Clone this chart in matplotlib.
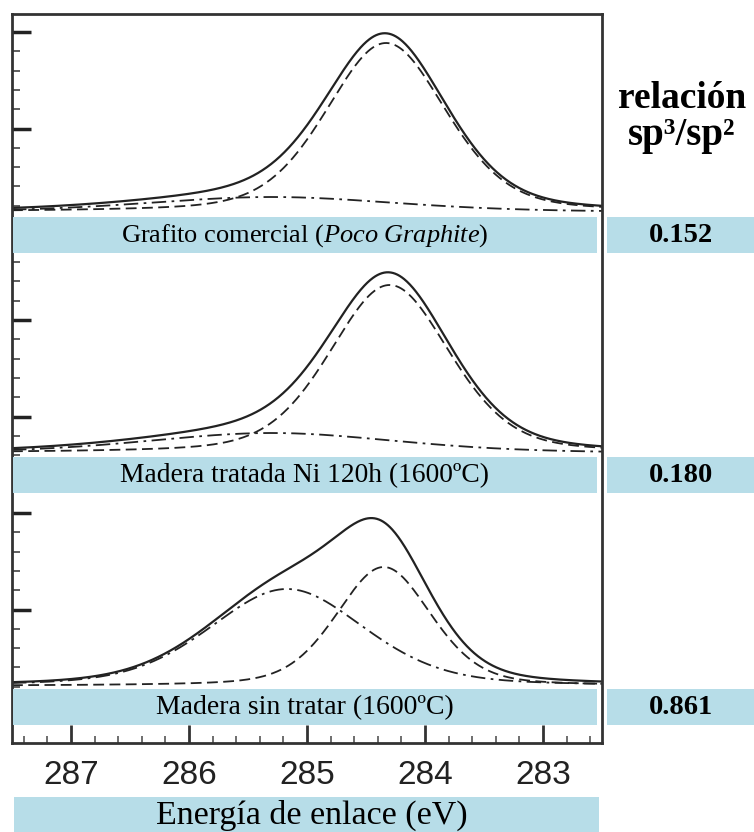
import numpy as np
import matplotlib.pyplot as plt
from matplotlib.patches import Rectangle

plt.rcParams['mathtext.fontset'] = 'custom'
plt.rcParams['mathtext.rm'] = 'Liberation Serif'
plt.rcParams['mathtext.it'] = 'Liberation Serif:italic'

# binding energy range (eV) and tick labels
e_left, e_right = 287.5, 282.5
x_ticks = [287, 286, 285, 284, 283]

samples = ['Grafito comercial ($\\it{Poco\\ Graphite}$)',
           'Madera tratada Ni 120h (1600ºC)',
           'Madera sin tratar (1600ºC)']
ratios = ['0.152', '0.180', '0.861']

# fitted components: centre (eV), height, FWHM (eV)
sp2_center = [284.33, 284.3, 284.35]
sp2_height = [169, 168, 119]
sp2_fwhm = [1.2, 1.2, 0.95]
sp3_center = [285.3, 285.3, 285.17]
sp3_height = [15, 20, 97]
sp3_fwhm = [2.5, 2.5, 1.55]

W, H = 754, 832
# panel layout in image pixels
base_px = [212, 453, 686]       # curve baseline of each panel
box_top = [217, 457, 689]       # top of the label boxes
panel_top = [14, 253, 493]
tick_ref = [32, 320, 513]       # one major y tick per panel


def pv(x, c, h, fwhm, eta=0.3):
    s = fwhm / 2.3548
    g = np.exp(-(x - c) ** 2 / (2 * s * s))
    l = 1.0 / (1.0 + ((x - c) / (fwhm / 2)) ** 2)
    return h * (eta * l + (1 - eta) * g)


fig = plt.figure(figsize=(W / 100, H / 100), dpi=100)
ax = fig.add_axes([12 / W, (H - 743) / H, 590 / W, 729 / H])
ax.set_xlim(e_left, e_right)
ax.set_ylim(0, 729)

x = np.linspace(e_left, e_right, 800)
ink = '#222222'
for i in range(3):
    b = 743 - base_px[i]
    sp2 = pv(x, sp2_center[i], sp2_height[i], sp2_fwhm[i])
    sp3 = pv(x, sp3_center[i], sp3_height[i], sp3_fwhm[i])
    ax.plot(x, b + sp2 + sp3, color=ink, lw=1.6)
    ax.plot(x, b + sp2, color=ink, lw=1.3, ls=(0, (6, 3)))
    ax.plot(x, b + sp3, color=ink, lw=1.3, ls=(0, (8, 3, 1.5, 3)))

# axes styling
for s in ax.spines.values():
    s.set_linewidth(2)
    s.set_color('#333333')
ax.set_xticks(x_ticks)
ax.set_xticks(np.arange(282.6, 287.5, 0.2), minor=True)
ax.tick_params(axis='x', which='major', direction='in', length=13, width=2,
               labelsize=24, pad=12, colors='#333333')
ax.tick_params(axis='x', which='minor', direction='in', length=5, width=1.2,
               colors='#555555')
ax.set_xticklabels([str(t) for t in x_ticks], family='Liberation Sans',
                   color='#222222')

ymaj, ymin = [], []
for i in range(3):
    k = -10
    while True:
        p = tick_ref[i] + k * 19.3
        if p > box_top[i]:
            break
        if p > panel_top[i] + 2:
            (ymaj if k % 5 == 0 else ymin).append(743 - p)
        k += 1
ax.set_yticks(ymaj)
ax.set_yticks(ymin, minor=True)
ax.set_yticklabels([])
ax.tick_params(axis='y', which='major', direction='in', length=14, width=2.5,
               colors='#222222')
ax.tick_params(axis='y', which='minor', direction='in', length=6, width=1.2,
               colors='#444444')


def fig_box(x0, y0, x1, y1):
    fig.add_artist(Rectangle((x0 / W, 1 - y1 / H), (x1 - x0) / W, (y1 - y0) / H,
                             transform=fig.transFigure, facecolor='#b7dde8',
                             edgecolor='none', zorder=5))


serif = 'Liberation Serif'
label_size = [19, 19.8, 20]
for i in range(3):
    fig_box(13, box_top[i], 597, box_top[i] + 36)
    fig.text(305 / W, 1 - (box_top[i] + 19) / H, samples[i], ha='center',
             va='center', fontsize=label_size[i], family=serif, zorder=6)
    fig_box(607, box_top[i], 754, box_top[i] + 36)
    fig.text(681 / W, 1 - (box_top[i] + 19) / H, ratios[i], ha='center',
             va='center', fontsize=20.5, family=serif, weight='bold', zorder=6)

fig.text(682 / W, 1 - 99 / H, 'relación', ha='center', va='center',
         fontsize=27, family=serif, weight='bold')
fig.text(682 / W, 1 - 136 / H, 'sp³/sp²', ha='center', va='center',
         fontsize=28, family=serif, weight='bold')

fig_box(14, 797, 599, 832)
fig.text(312 / W, 1 - 815 / H, 'Energía de enlace (eV)', ha='center',
         va='center', fontsize=24.5, family=serif, zorder=6)

fig.savefig('out.png', dpi=100)
